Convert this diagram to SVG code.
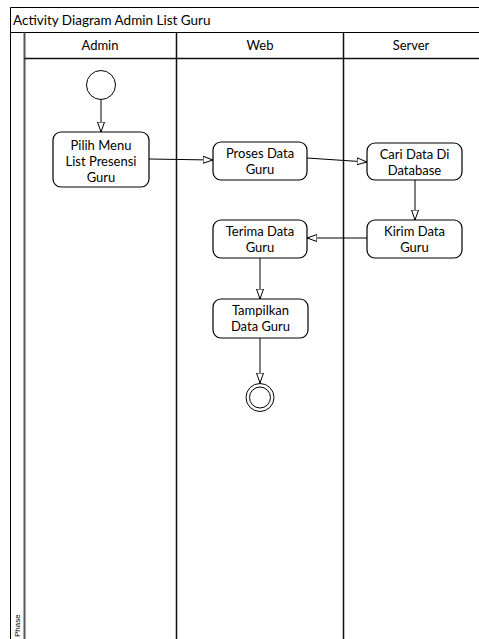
<svg xmlns="http://www.w3.org/2000/svg" width="479" height="639" viewBox="0 0 479 639">
  <style>
    .frame { fill: none; stroke: #000; stroke-width: 1; }
    .lane { fill: none; stroke: #111; stroke-width: 1.5; }
    .act { fill: #fff; stroke: #000; stroke-width: 1.2; }
    .lbl { font-family: Lato, "Liberation Sans", sans-serif; font-size: 13px; fill: #000; text-anchor: middle; }
    .title { font-family: Lato, "Liberation Sans", sans-serif; font-size: 13.5px; fill: #000; }
    .flow { fill: none; stroke: #000; stroke-width: 1; marker-end: url(#open); }
  </style>
  <defs>
    <marker id="open" viewBox="0 0 10 10" refX="10" refY="5" markerWidth="10" markerHeight="10" markerUnits="userSpaceOnUse" orient="auto">
      <path d="M0,1.5 L10,5 L0,8.5 Z" fill="#fff" stroke="#000" stroke-width="1"/>
    </marker>
  </defs>
  <rect width="479" height="639" fill="#fff"/>

  <!-- swimlane frame -->
  <g id="pool">
    <path class="frame" d="M10.5,639 V7.5 H480 M10.5,32.5 H480"/>
    <text class="title" x="13" y="24.5">Activity Diagram Admin List Guru</text>
    <path d="M24.5,32.5 V639" stroke="#555" stroke-width="2" fill="none"/>
    <path class="lane" d="M24.5,58.5 H480 M176.5,32.5 V639 M343.5,32.5 V639"/>
    <text class="lbl" x="100" y="50">Admin</text>
    <text class="lbl" x="260" y="50">Web</text>
    <text class="lbl" x="411" y="50">Server</text>
    <text x="20" y="637" transform="rotate(-90 20 637)" font-family="Liberation Sans, sans-serif" font-size="8" fill="#000">Phase</text>
  </g>

  <!-- connectors -->
  <g id="connectors">
    <path class="flow" d="M101,99 V132"/>
    <path class="flow" d="M149,159 L213,160"/>
    <path class="flow" d="M307,158 L367,162"/>
    <path class="flow" d="M415,180 V220"/>
    <path class="flow" d="M367,238 H307"/>
    <path class="flow" d="M260,258 V299"/>
    <path class="flow" d="M260,338 V383"/>
  </g>

  <g id="start">
    <circle cx="101" cy="85" r="14.5" fill="#fff" stroke="#000" stroke-width="1"/>
  </g>

  <g id="pilih-menu">
    <rect class="act" x="53" y="132" width="96" height="55" rx="8"/>
    <text class="lbl" x="101" y="150">Pilih Menu</text>
    <text class="lbl" x="101" y="166">List Presensi</text>
    <text class="lbl" x="101" y="182">Guru</text>
  </g>

  <g id="proses-data">
    <rect class="act" x="213" y="142" width="94" height="38" rx="8"/>
    <text class="lbl" x="260" y="158">Proses Data</text>
    <text class="lbl" x="260" y="174">Guru</text>
  </g>

  <g id="cari-data">
    <rect class="act" x="367" y="143" width="95" height="37" rx="8"/>
    <text class="lbl" x="414.5" y="158.5">Cari Data Di</text>
    <text class="lbl" x="414.5" y="174.5">Database</text>
  </g>

  <g id="kirim-data">
    <rect class="act" x="367" y="220" width="95" height="38" rx="8"/>
    <text class="lbl" x="414.5" y="236">Kirim Data</text>
    <text class="lbl" x="414.5" y="252">Guru</text>
  </g>

  <g id="terima-data">
    <rect class="act" x="213" y="220" width="94" height="38" rx="8"/>
    <text class="lbl" x="260" y="236">Terima Data</text>
    <text class="lbl" x="260" y="252">Guru</text>
  </g>

  <g id="tampilkan-data">
    <rect class="act" x="213" y="299" width="95" height="39" rx="8"/>
    <text class="lbl" x="260.5" y="315">Tampilkan</text>
    <text class="lbl" x="260.5" y="331">Data Guru</text>
  </g>

  <g id="end">
    <circle cx="260" cy="397.5" r="14" fill="#fff" stroke="#000" stroke-width="1"/>
    <circle cx="260" cy="397.5" r="10.5" fill="none" stroke="#000" stroke-width="1"/>
  </g>
</svg>
